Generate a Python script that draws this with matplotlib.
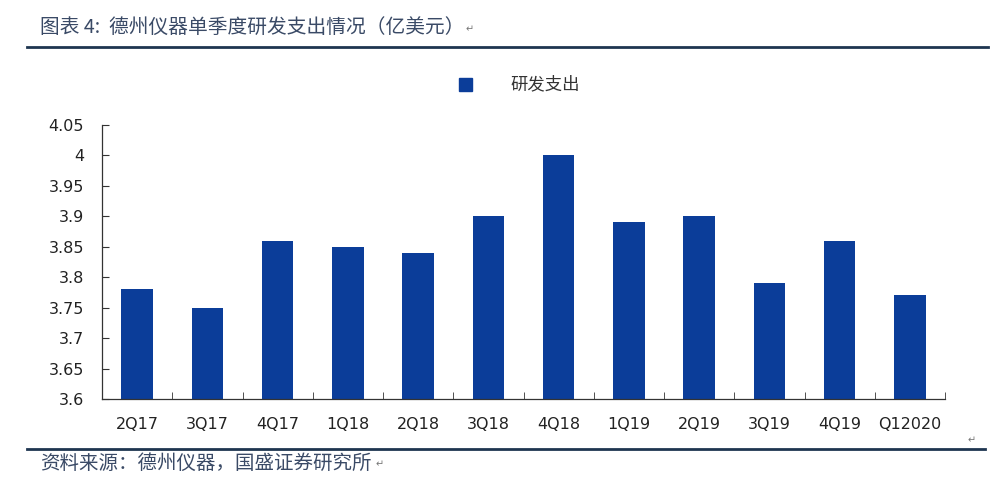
import matplotlib
matplotlib.use("Agg")
import matplotlib.pyplot as plt
import numpy as np

plt.rcParams['font.family'] = ['DejaVu Sans', 'Noto Sans CJK SC']

categories = ["2Q17", "3Q17", "4Q17", "1Q18", "2Q18", "3Q18", "4Q18",
              "1Q19", "2Q19", "3Q19", "4Q19", "Q12020"]
rd_spend = [3.78, 3.75, 3.86, 3.85, 3.84, 3.90, 4.00, 3.89, 3.90, 3.79, 3.86, 3.77]
y_ticks = [3.6, 3.65, 3.7, 3.75, 3.8, 3.85, 3.9, 3.95, 4, 4.05]
y_tick_labels = ["3.6", "3.65", "3.7", "3.75", "3.8", "3.85", "3.9", "3.95", "4", "4.05"]
series_name = "研发支出"
title = "图表 4:  德州仪器单季度研发支出情况（亿美元）"
source = "资料来源：德州仪器，国盛证券研究所"

W, H = 991, 478
fig = plt.figure(figsize=(W / 100, H / 100), dpi=100)
fig.patch.set_facecolor("white")

bar_color = "#0B3D99"
text_color = "#3A4A66"
line_color = "#1E3550"

ax = fig.add_axes([102 / W, 1 - 399 / H, (945 - 102) / W, (399 - 125) / H])
x = np.arange(len(categories))
ax.bar(x, rd_spend, width=0.45, color=bar_color, zorder=2, label=series_name)
ax.set_xlim(-0.5, len(categories) - 0.5)
ax.set_ylim(3.6, 4.05)
ax.set_yticks(y_ticks)
ax.set_yticklabels(y_tick_labels, fontsize=11.5, color="#222222")
ax.set_xticks(x)
ax.set_xticklabels(categories, fontsize=11.5, color="#222222")
ax.set_xticks(np.arange(len(categories) + 1) - 0.5, minor=True)
ax.tick_params(axis="x", which="major", length=0, pad=13)
ax.tick_params(axis="x", which="minor", direction="in", length=5, color="#333333")
ax.tick_params(axis="y", direction="in", length=5, color="#333333", pad=13)
for s in ["top", "right"]:
    ax.spines[s].set_visible(False)
for s in ["left", "bottom"]:
    ax.spines[s].set_color("#333333")
    ax.spines[s].set_linewidth(0.9)

# legend
fig.patches.append(plt.Rectangle((459 / W, 1 - 91 / H), 13 / W, 13 / H,
                                 transform=fig.transFigure, color=bar_color))
fig.text(510 / W, 1 - 84 / H, series_name, fontsize=12.5, color="#333333",
         family=["Noto Sans CJK SC"], va="center", ha="left")

# title and rules
fig.text(40 / W, 1 - 27 / H, title, fontsize=14.2, color=text_color,
         family=["Noto Sans CJK SC", "DejaVu Sans"], va="center", ha="left")
fig.text(466 / W, 1 - 29 / H, "↵", fontsize=7, color="#777777", va="center")
fig.add_artist(plt.Line2D([27 / W, 988 / W], [1 - 47 / H, 1 - 47 / H],
                          transform=fig.transFigure, color=line_color, lw=2))
fig.add_artist(plt.Line2D([27 / W, 985 / W], [1 - 449 / H, 1 - 449 / H],
                          transform=fig.transFigure, color=line_color, lw=2))
fig.text(40 / W, 1 - 463 / H, source, fontsize=14, color=text_color,
         family=["Noto Sans CJK SC", "DejaVu Sans"], va="center", ha="left")
fig.text(376 / W, 1 - 464 / H, "↵", fontsize=7, color="#777777", va="center")
fig.text(968 / W, 1 - 440 / H, "↵", fontsize=7, color="#777777", va="center")

fig.savefig("out.png", dpi=100)
